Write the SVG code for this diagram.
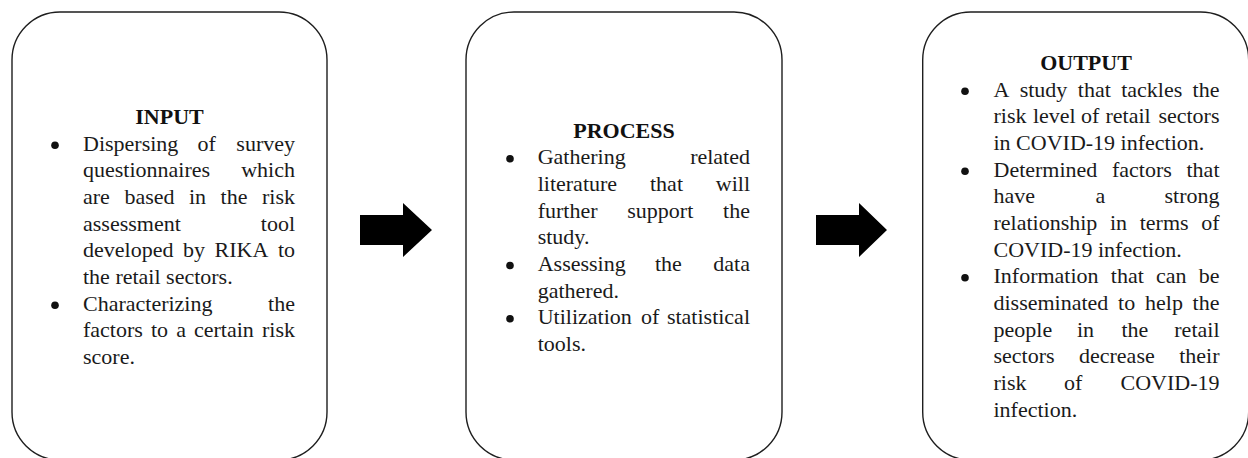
<svg xmlns="http://www.w3.org/2000/svg" width="1248" height="458" viewBox="0 0 1248 458">
<style>
.box{fill:#fff;stroke:#1e1e1e;stroke-width:1.4}
.t{font-family:"Liberation Serif","Times New Roman",serif;font-size:22px;fill:#1a1a1a}
.h{font-family:"Liberation Serif","Times New Roman",serif;font-size:22px;font-weight:bold;fill:#111;text-anchor:middle}
.e{text-anchor:end}
.b{fill:#111}
.arr{fill:#000}
</style>
<rect width="1248" height="458" fill="#fff"/>

<g id="input">
<rect class="box" x="12" y="12" width="315" height="448" rx="48" ry="48"/>
<text class="h" x="169.5" y="124">INPUT</text>
<circle class="b" cx="55" cy="145.2" r="3.8"/>
<text class="t" y="150.7"><tspan x="83">Dispersing</tspan><tspan x="197.6">of</tspan><tspan class="e" x="295">survey</tspan></text>
<text class="t" y="177.3"><tspan x="83">questionnaires</tspan><tspan class="e" x="295">which</tspan></text>
<text class="t" y="204"><tspan x="83">are</tspan><tspan x="124.4">based</tspan><tspan x="189">in</tspan><tspan x="220.6">the</tspan><tspan class="e" x="295">risk</tspan></text>
<text class="t" y="230.7"><tspan x="83">assessment</tspan><tspan class="e" x="295">tool</tspan></text>
<text class="t" y="257.3"><tspan x="83">developed</tspan><tspan x="183">by</tspan><tspan x="214.5">RIKA</tspan><tspan class="e" x="295">to</tspan></text>
<text class="t" x="83" y="284">the retail sectors.</text>
<circle class="b" cx="55" cy="305.2" r="3.8"/>
<text class="t" y="310.7"><tspan x="83">Characterizing</tspan><tspan class="e" x="295">the</tspan></text>
<text class="t" y="337.3"><tspan x="83">factors</tspan><tspan x="151">to</tspan><tspan x="176.2">a</tspan><tspan x="194">certain</tspan><tspan class="e" x="295">risk</tspan></text>
<text class="t" x="83" y="364">score.</text>
</g>

<g id="process">
<rect class="box" x="466" y="12" width="316" height="448" rx="48" ry="48"/>
<text class="h" x="624" y="137.7">PROCESS</text>
<circle class="b" cx="510" cy="158.8" r="3.8"/>
<text class="t" y="164.3"><tspan x="537.7">Gathering</tspan><tspan class="e" x="750">related</tspan></text>
<text class="t" y="191"><tspan x="537.7">literature</tspan><tspan x="650">that</tspan><tspan class="e" x="750">will</tspan></text>
<text class="t" y="217.7"><tspan x="537.7">further</tspan><tspan x="627.3">support</tspan><tspan class="e" x="750">the</tspan></text>
<text class="t" x="537.7" y="244.3">study.</text>
<circle class="b" cx="510" cy="265.5" r="3.8"/>
<text class="t" y="271"><tspan x="537.7">Assessing</tspan><tspan x="655">the</tspan><tspan class="e" x="750">data</tspan></text>
<text class="t" x="537.7" y="297.7">gathered.</text>
<circle class="b" cx="510" cy="318.8" r="3.8"/>
<text class="t" y="324.3"><tspan x="537.7">Utilization</tspan><tspan x="641">of</tspan><tspan class="e" x="750">statistical</tspan></text>
<text class="t" x="537.7" y="351">tools.</text>
</g>

<g id="output">
<rect class="box" x="922.7" y="12" width="326" height="448" rx="48" ry="48"/>
<text class="h" x="1086" y="70">OUTPUT</text>
<circle class="b" cx="965" cy="91.2" r="3.8"/>
<text class="t" y="96.7"><tspan x="993.5">A</tspan><tspan x="1019.7">study</tspan><tspan x="1077.8">that</tspan><tspan x="1121.2">tackles</tspan><tspan class="e" x="1219.5">the</tspan></text>
<text class="t" y="123.3"><tspan x="993.5">risk</tspan><tspan x="1032.9">level</tspan><tspan x="1081">of</tspan><tspan x="1105.5">retail</tspan><tspan class="e" x="1219.5">sectors</tspan></text>
<text class="t" x="993.5" y="150">in COVID-19 infection.</text>
<circle class="b" cx="965" cy="171.2" r="3.8"/>
<text class="t" y="176.7"><tspan x="993.5">Determined</tspan><tspan x="1112">factors</tspan><tspan class="e" x="1219.5">that</tspan></text>
<text class="t" y="203.3"><tspan x="993.5">have</tspan><tspan x="1095.5">a</tspan><tspan class="e" x="1219.5">strong</tspan></text>
<text class="t" y="230"><tspan x="993.5">relationship</tspan><tspan x="1110">in</tspan><tspan x="1139.7">terms</tspan><tspan class="e" x="1219.5">of</tspan></text>
<text class="t" x="993.5" y="256.7">COVID-19 infection.</text>
<circle class="b" cx="965" cy="277.8" r="3.8"/>
<text class="t" y="283.3"><tspan x="993.5">Information</tspan><tspan x="1110.8">that</tspan><tspan x="1156">can</tspan><tspan class="e" x="1219.5">be</tspan></text>
<text class="t" y="310"><tspan x="993.5">disseminated</tspan><tspan x="1118.1">to</tspan><tspan x="1145">help</tspan><tspan class="e" x="1219.5">the</tspan></text>
<text class="t" y="336.7"><tspan x="993.5">people</tspan><tspan x="1077">in</tspan><tspan x="1121.4">the</tspan><tspan class="e" x="1219.5">retail</tspan></text>
<text class="t" y="363.3"><tspan x="993.5">sectors</tspan><tspan x="1079">decrease</tspan><tspan class="e" x="1219.5">their</tspan></text>
<text class="t" y="390"><tspan x="993.5">risk</tspan><tspan x="1064">of</tspan><tspan class="e" x="1219.5">COVID-19</tspan></text>
<text class="t" x="993.5" y="416.7">infection.</text>
</g>

<g id="connectors">
<polygon class="arr" points="360,215 403,215 403,203 432,230 403,257 403,245 360,245"/>
<polygon class="arr" points="816,215 859,215 859,203 887,230 859,257 859,245 816,245"/>
</g>
</svg>
